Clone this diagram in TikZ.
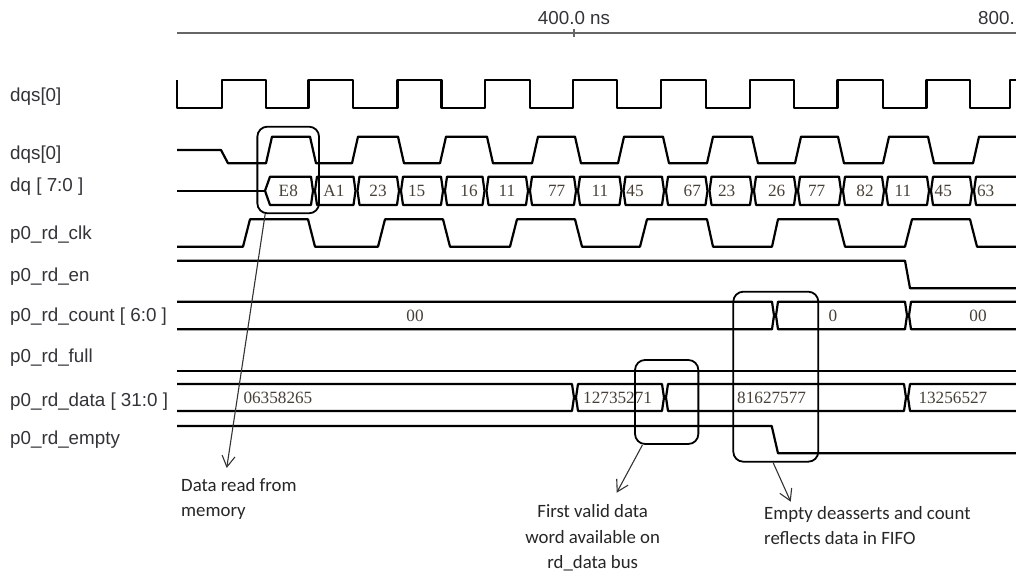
\documentclass[tikz,border=0pt]{standalone}
\usepackage{fontspec}
\usetikzlibrary{arrows.meta}
\newfontfamily\siglabelfont{Liberation Sans}
\newfontfamily\busvaluefont{Liberation Serif}
\newfontfamily\notefont{Carlito}
\definecolor{labelgray}{rgb}{0.2,0.2,0.22}
\definecolor{valuecol}{rgb}{0.28,0.25,0.22}
\definecolor{axisgray}{rgb}{0.4,0.4,0.4}
\tikzset{
  wave/.style={line width=2.2bp, black},
  callout/.style={draw, line width=1.8bp, rounded corners=10bp, inner sep=0pt},
  siglabel/.style={anchor=west, inner sep=0pt, text=labelgray,
    font=\siglabelfont\fontsize{18.8bp}{22bp}\selectfont},
  axislabel/.style={inner sep=0pt, text=labelgray,
    font=\siglabelfont\fontsize{18.8bp}{22bp}\selectfont},
  busval/.style={inner sep=0pt, text=valuecol,
    font=\busvaluefont\fontsize{17.2bp}{20bp}\selectfont},
  note/.style={inner sep=0pt, text=black!85,
    font=\notefont\fontsize{18.8bp}{25.3bp}\selectfont},
  notearrow/.style={line width=1.1bp, black!80, -{Straight Barb[length=11bp,width=13bp]}},
}
\begin{document}
\begin{tikzpicture}[x=1bp,y=1bp,line join=round]
  \path[use as bounding box, fill=white] (0,0) rectangle (1016,577);
%%
  % Time axis
  \draw[axisgray, line width=1.6bp] (177,543.7) -- (1016,543.7);
  \draw[axisgray, line width=1.2bp] (574,540) -- (574,547.5);
  \node[axislabel] (t400) at (574,559) {400.0 ns};
  \node[axislabel, anchor=east] (t800) at (1015,559) {800.};
%%
  % Node: signal names
  \node[siglabel] (dqsa) at (10,480.3) {dqs[0]};
  \node[siglabel] (dqsb) at (10,422) {dqs[0]};
  \node[siglabel] (dq) at (10,390.3) {dq [ 7:0 ]};
  \node[siglabel] (rdclk) at (10,342) {p0\_rd\_clk};
  \node[siglabel] (rden) at (10,300.3) {p0\_rd\_en};
  \node[siglabel] (rdcount) at (10,260.3) {p0\_rd\_count [ 6:0 ]};
  \node[siglabel] (rdfull) at (10,219) {p0\_rd\_full};
  \node[siglabel] (rddata) at (10,175.3) {p0\_rd\_data [ 31:0 ]};
  \node[siglabel] (rdempty) at (10,137) {p0\_rd\_empty};
%%
  % Signal: dqs[0]
  \draw[wave] (177,497) -- (177,469) -- (222,469) -- (222,497) -- (266,497) -- (266,469)
    -- (308.5,469) -- (308.5,497) -- (353,497) -- (353,469) -- (397.5,469) -- (397.5,497)
    -- (441.5,497) -- (441.5,469) -- (485,469) -- (485,497) -- (530,497) -- (530,469)
    -- (573,469) -- (573,497) -- (617,497) -- (617,469) -- (661,469) -- (661,497)
    -- (706,497) -- (706,469) -- (750,469) -- (750,497) -- (794,497) -- (794,469)
    -- (837.5,469) -- (837.5,497) -- (883,497) -- (883,469) -- (926.5,469) -- (926.5,497)
    -- (970,497) -- (970,469) -- (1010,469) -- (1010,497) -- (1016,497);
  % Signal: dqs[0] (delayed)
  \draw[wave] (177,427) -- (221,427) -- (228,413.7) -- (266,413.7) -- (272,440.3)
    -- (310,440.3) -- (316,413.7) -- (352,413.7) -- (358,440.3) -- (398,440.3) -- (404,413.7)
    -- (440,413.7) -- (446,440.3) -- (487,440.3) -- (493,413.7) -- (532,413.7) -- (538,440.3)
    -- (575,440.3) -- (581,413.7) -- (618,413.7) -- (624,440.3) -- (663,440.3) -- (669,413.7)
    -- (707,413.7) -- (713,440.3) -- (752,440.3) -- (758,413.7) -- (795,413.7) -- (801,440.3)
    -- (838,440.3) -- (844,413.7) -- (883,413.7) -- (889,440.3) -- (928,440.3) -- (934,413.7)
    -- (973,413.7) -- (979,440.3) -- (1016,440.3);
  % Signal: dq [7:0]
  \draw[wave] (177,386.2) -- (265,386.2);
  \draw[wave] (265,386.2) -- (270,400.3) -- (311,400.3) -- (313,386.2)
    -- (311,372) -- (270,372) -- cycle;
  \foreach \a/\b in {314/356.5, 356.5/400, 400/444, 444/485.5, 485.5/529, 529/577,
      577/622.5, 622.5/665, 665/708.5, 708.5/753, 753/797, 797/842, 842/885, 885/930, 930/973}
    \draw[wave] ({\a+1},386.2) -- ({\a+3},400.3) -- ({\b-3},400.3) -- ({\b-1},386.2)
      -- ({\b-3},372) -- ({\a+3},372) -- cycle;
  \draw[wave] (1016,400.3) -- (976,400.3) -- (974,386.2) -- (976,372) -- (1016,372);
  \foreach \x/\v [count=\i] in {288.3/E8, 334/A1, 378/23, 416.7/15, 469/16, 507/11, 556.7/77,
      600/11, 635/45, 692.3/67, 726.7/23, 776.7/26, 816.7/77, 865/82, 903/11, 943.3/45, 985.7/63}
    \node[busval] (dqval\i) at (\x,386.2) {\v};
  % Signal: p0_rd_clk
  \draw[wave] (177,330.3) -- (243,330.3) -- (250,357.7) -- (308,357.7) -- (315,330.3)
    -- (378,330.3) -- (385,357.7) -- (443,357.7) -- (450,330.3) -- (510,330.3) -- (517,357.7)
    -- (575,357.7) -- (582,330.3) -- (640,330.3) -- (647,357.7) -- (707,357.7) -- (713,330.3)
    -- (772,330.3) -- (778,357.7) -- (838,357.7) -- (845,330.3) -- (905,330.3) -- (912,357.7)
    -- (970,357.7) -- (977,330.3) -- (1016,330.3);
  % Signal: p0_rd_en
  \draw[wave] (177,316.3) -- (905,316.3) -- (910,288.7) -- (1016,288.7);
  % Signal: p0_rd_count [6:0]
  \draw[wave] (177,275.3) -- (772,275.3) -- (774,261.5) -- (772,247.7) -- (177,247.7);
  \draw[wave] (776,261.5) -- (778,275.3) -- (905,275.3) -- (907,261.5) -- (905,247.7)
    -- (778,247.7) -- cycle;
  \draw[wave] (1016,275.3) -- (911,275.3) -- (909,261.5) -- (911,247.7) -- (1016,247.7);
  \node[busval] (cnt1) at (415,261.5) {00};
  \node[busval] (cnt2) at (833,261.5) {0};
  \node[busval] (cnt3) at (978,261.5) {00};
  % Signal: p0_rd_full
  \draw[wave] (177,206.3) -- (1016,206.3);
  % Signal: p0_rd_data [31:0]
  \draw[wave] (177,193) -- (572,193) -- (574,179.5) -- (572,166) -- (177,166);
  \draw[wave] (576,179.5) -- (578,193) -- (662,193) -- (664,179.5) -- (662,166)
    -- (578,166) -- cycle;
  \draw[wave] (666,179.5) -- (668,193) -- (904,193) -- (906,179.5) -- (904,166)
    -- (668,166) -- cycle;
  \draw[wave] (1016,193) -- (910,193) -- (908,179.5) -- (910,166) -- (1016,166);
  \node[busval, anchor=west] (dat1) at (243.3,179.5) {06358265};
  \node[busval, anchor=west] (dat2) at (583,179.5) {12735271};
  \node[busval, anchor=west] (dat3) at (737,179.5) {81627577};
  \node[busval, anchor=west] (dat4) at (918.3,179.5) {13256527};
  % Signal: p0_rd_empty
  \draw[wave] (177,151) -- (771.7,151) -- (778,123.7) -- (1016,123.7);
%%
  % Node: callouts
  \node[callout, minimum width=61.7bp, minimum height=86.6bp] (box1) at (288.2,407) {};
  \node[callout, minimum width=63.3bp, minimum height=84bp] (box2) at (666.7,175) {};
  \node[callout, minimum width=85bp, minimum height=170bp] (box3) at (775.8,200.3) {};
  % Node: notes
  \node[note, align=left, anchor=west] (note1) at (181,77.8) {Data read from\\memory};
  \node[note, align=center] (note2) at (592.7,39) {First valid data\\word available on\\rd\_data bus};
  \node[note, align=left, anchor=west] (note3) at (764,51.7) {Empty deasserts and count\\reflects data in FIFO};
  \coordinate (tip1) at (226.7,109);
  \coordinate (tip2) at (616.7,84.3);
  \coordinate (tip3) at (790.7,75.3);
  % Edge: box1 -> note1
  \draw[notearrow] ([xshift=8.7bp]box1.south west) -- (tip1);
  % Edge: box2 -> note2
  \draw[notearrow] ([xshift=8.3bp]box2.south west) -- (tip2);
  % Edge: box3 -> note3
  \draw[notearrow] ([xshift=40.7bp]box3.south west) -- (tip3);
%
\end{tikzpicture}
\end{document}
